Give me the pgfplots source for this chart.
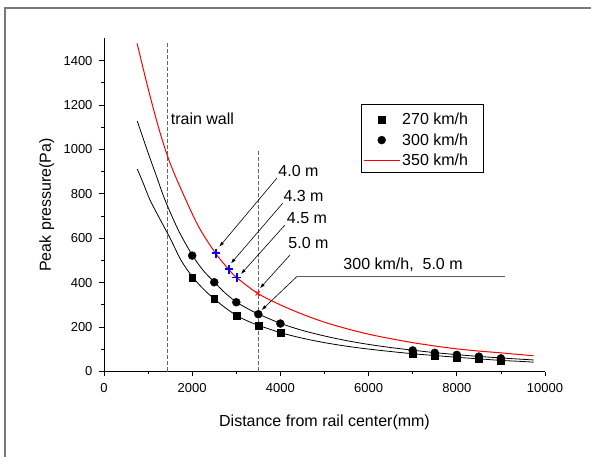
\documentclass[border=0pt]{standalone}
\usepackage{fontspec}
\setmainfont{Liberation Sans}
\usepackage{pgfplots}
\pgfplotsset{compat=1.18}
\usetikzlibrary{arrows.meta}
\newcommand{\lbl}{\fontsize{16bp}{19bp}\selectfont}
\newcommand{\tkl}{\fontsize{13bp}{15bp}\selectfont}
\begin{document}
\begin{tikzpicture}
\useasboundingbox (-104bp,-85.5bp) rectangle (487bp,371.5bp);
\draw[color={rgb,255:red,120;green,120;blue,120}, line width=1.5bp] (-99bp,-90bp) -- (-99bp,363.5bp) -- (490bp,363.5bp);
\begin{axis}[
  at={(0,0)}, anchor=south west,
  scale only axis, width=441bp, height=333bp,
  xmin=0, xmax=10000, ymin=0, ymax=1500,
  axis x line*=bottom, axis y line*=left,
  tick align=outside,
  xtick={0,2000,...,10000}, ytick={0,200,...,1400},
  minor x tick num=1, minor y tick num=1,
  major tick length=4.5bp, minor tick length=2.5bp,
  tick style={black, line width=0.8bp},
  axis line style={black, line width=0.8bp},
  scaled ticks=false,
  /pgf/number format/1000 sep={},
  /pgf/number format/assume math mode=true,
  ticklabel style={font=\tkl},
  xticklabel style={yshift=-3.5bp},
  yticklabel style={xshift=-3.5bp},
  xlabel={Distance from rail center(mm)},
  ylabel={Peak pressure(Pa)},
  label style={font=\lbl},
  xlabel style={at={(axis description cs:0.5,-0.1517)}, anchor=center},
  ylabel style={at={(axis description cs:-0.130,0.5)}, anchor=center},
  clip=false,
  legend cell align=left,
  legend style={at={(0.5844,0.8033)}, anchor=north west, draw=none, fill=none,
    font=\lbl, row sep=3.3bp, inner xsep=1.3bp, inner ysep=7bp},
  legend image code/.code={\draw[mark repeat=2,mark phase=2,#1] plot coordinates {(0bp,0bp) (18bp,0bp) (36bp,0bp)};},
]
% legend frame
\draw[black, line width=0.8bp] (axis cs:5844,899) rectangle (axis cs:8601,1205);
% dashed reference lines
\draw[color={rgb,255:red,100;green,100;blue,100}, line width=1.4bp, dash pattern=on 4bp off 2bp] (axis cs:1435,0) -- (axis cs:1435,1480);
\draw[color={rgb,255:red,100;green,100;blue,100}, line width=1.4bp, dash pattern=on 4bp off 2bp] (axis cs:3500,0) -- (axis cs:3500,1000);

% measured points
\addplot[only marks, mark=square*, mark size=3.4bp, black] coordinates {
 (2000,424) (2500,327) (3000,253) (3500,208) (4000,175)
 (7000,79) (7500,70) (8000,62) (8500,56) (9000,50)};
\addlegendentry{270 km/h}
\addplot[only marks, mark=*, mark size=4bp, black] coordinates {
 (2000,522) (2500,402) (3000,312) (3500,258) (4000,216)
 (7000,95) (7500,84) (8000,75) (8500,67) (9000,59)};
\addlegendentry{300 km/h}
% 350 km/h curve
\addplot[color=red, line width=1bp, smooth, no marks] coordinates {
 (750,1478) (1000,1275) (1231,1103) (1458,960) (1723,832) (2138,655)
 (2533,532) (2828,460) (3009,423) (3485,352) (4000,300) (4500,258)
 (5000,222) (5500,193) (6000,168) (6500,148) (7000,130) (7500,115)
 (8000,102) (8500,92) (9000,84) (9500,75) (9740,71)};
\addlegendentry{350 km/h}
% 300 km/h fitted curve
\addplot[black, line width=0.8bp, smooth, no marks, forget plot] coordinates {
 (755,1128) (1000,985) (1195,877) (1383,773) (1685,637) (2000,525)
 (2250,455) (2500,403) (2750,353) (3000,313) (3250,284) (3500,259)
 (4000,217) (4500,185) (5000,160) (5500,139) (6000,122) (6500,108)
 (7000,96) (7500,85) (8000,76) (8500,68) (9000,61) (9740,52)};
% 270 km/h fitted curve
\addplot[black, line width=0.8bp, smooth, no marks, forget plot] coordinates {
 (755,912) (900,843) (1043,773) (1270,686) (1500,600) (1750,500)
 (2000,428) (2250,372) (2500,327) (2750,287) (3000,253) (3250,228)
 (3500,208) (4000,175) (4500,150) (5000,130) (5500,114) (6000,101)
 (6500,90) (7000,80) (7500,72) (8000,64) (8500,57) (9000,50)
 (9500,45) (9740,42)};
% 350 km/h marked points
\addplot[only marks, mark=+, mark size=4.2bp, mark options={draw=blue, line width=1.8bp}, forget plot] coordinates {
 (2533,532) (2828,460) (3009,423)};
\addplot[only marks, mark=x, mark size=3bp, mark options={draw=red, line width=0.9bp}, forget plot] coordinates {
 (3485,352)};

% annotations
\node[anchor=west, inner sep=0, font=\lbl] at (axis cs:1512,1140) {train wall};
\node[anchor=west, inner sep=0, font=\lbl] at (axis cs:3952,905) {4.0 m};
\node[anchor=west, inner sep=0, font=\lbl] at (axis cs:4066,790) {4.3 m};
\node[anchor=west, inner sep=0, font=\lbl] at (axis cs:4143,690) {4.5 m};
\node[anchor=west, inner sep=0, font=\lbl] at (axis cs:4179,577) {5.0 m};
\node[anchor=west, inner sep=0, font=\lbl] at (axis cs:5426,480) {300 km/h,~~5.0 m};
\draw[-{Latex[length=5bp,width=3.5bp]}, line width=0.6bp] (axis cs:3916,870) -- (axis cs:2615,562);
\draw[-{Latex[length=5bp,width=3.5bp]}, line width=0.6bp] (axis cs:4052,758) -- (axis cs:2880,487);
\draw[-{Latex[length=5bp,width=3.5bp]}, line width=0.6bp] (axis cs:4104,660) -- (axis cs:3107,439);
\draw[-{Latex[length=5bp,width=3.5bp]}, line width=0.6bp] (axis cs:4218,525) -- (axis cs:3537,375);
\draw[color={rgb,255:red,90;green,90;blue,90}, line width=0.8bp] (axis cs:9093,427) -- (axis cs:4370,427);
\draw[-{Latex[length=5bp,width=3.5bp]}, line width=0.6bp] (axis cs:4370,427) -- (axis cs:3576,277);
\end{axis}
\end{tikzpicture}
\end{document}
